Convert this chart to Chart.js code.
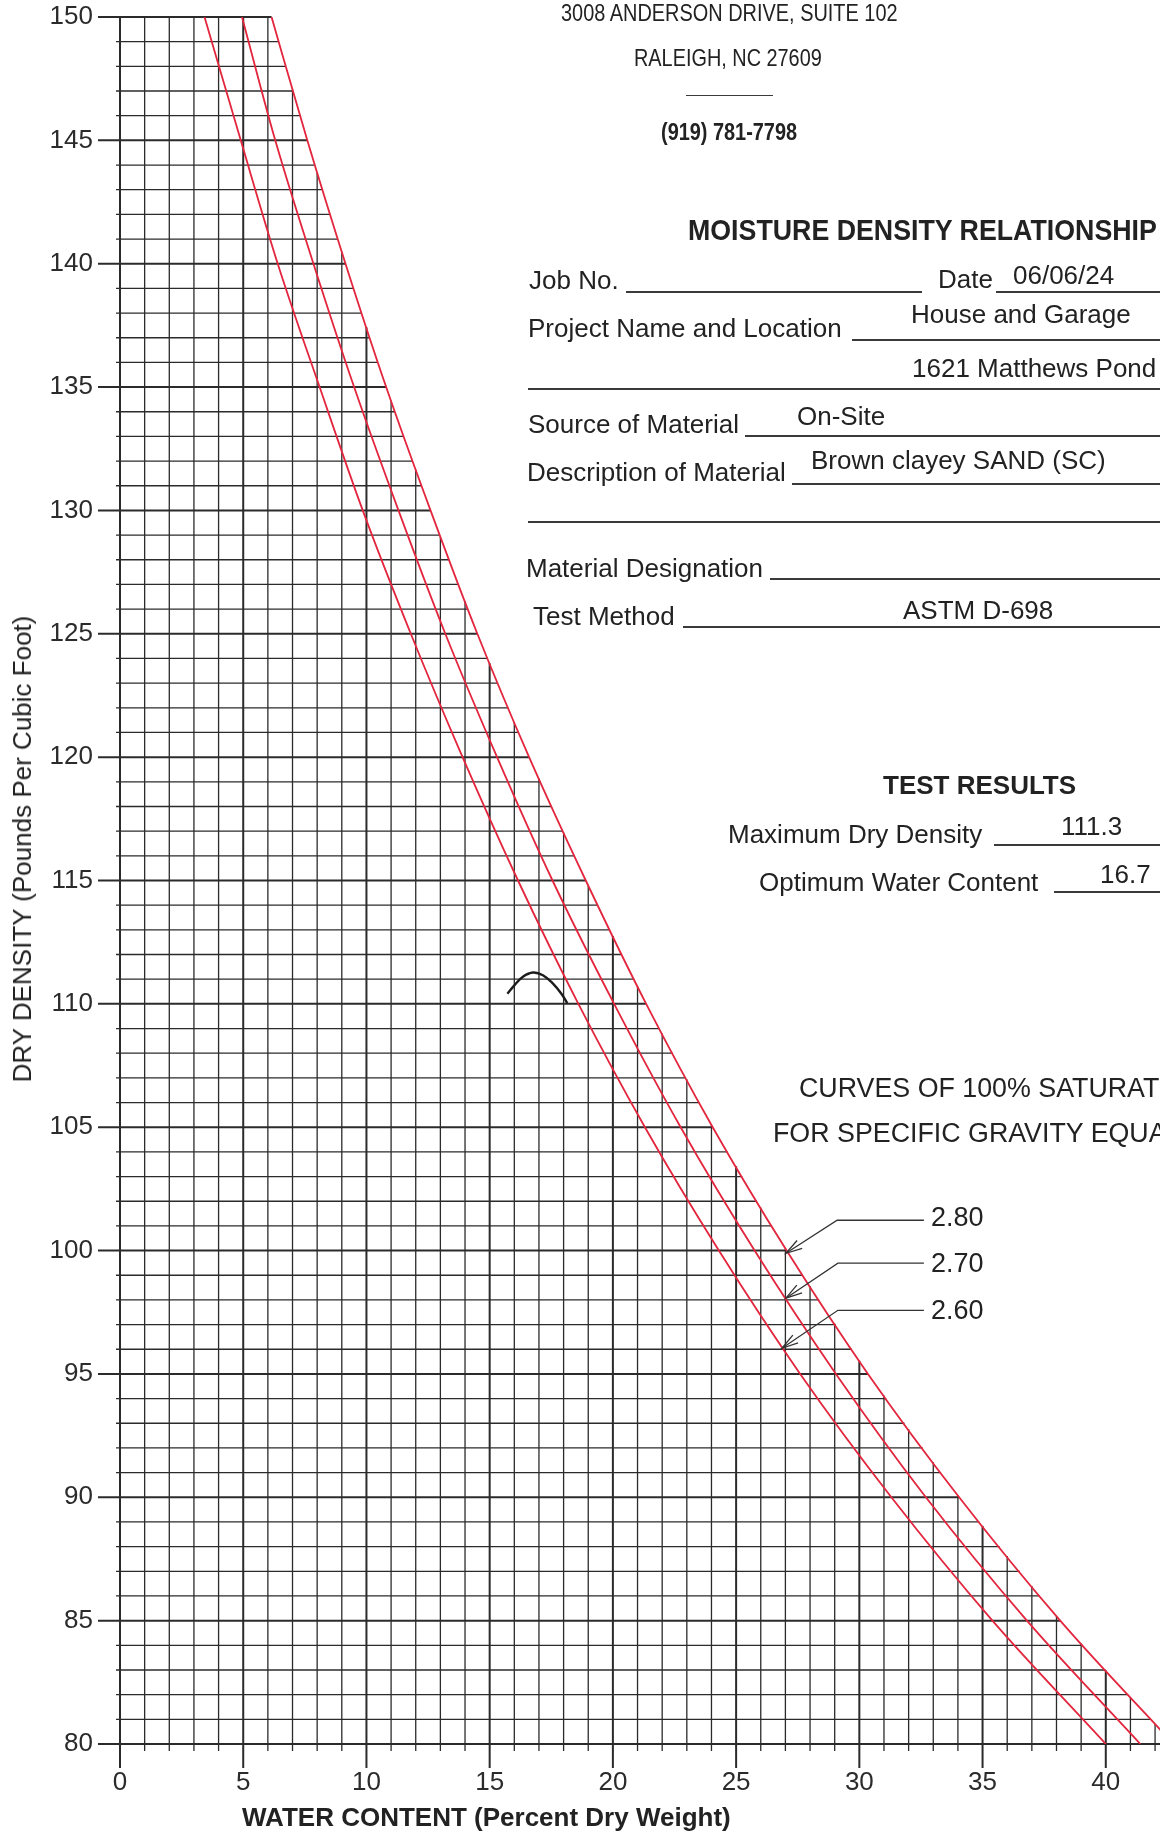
<!DOCTYPE html>
<html>
<head>
<meta charset="utf-8">
<title>Moisture Density Relationship</title>
<script src="https://cdn.jsdelivr.net/npm/chart.js@4.4.1/dist/chart.umd.min.js"></script>
<style>
  html, body { margin: 0; padding: 0; background: #fff; }
  #sheet { position: relative; width: 1160px; height: 1832px; overflow: hidden; background: #fff; }
  #sheet canvas { position: absolute; left: 0; top: 0; }
  .tx { position: absolute; white-space: nowrap; font-family: 'Liberation Sans', Arial, Helvetica, sans-serif;
        font-size: 26px; line-height: 26px; color: #222; transform-origin: 0 50%; }
  .b { font-weight: bold; }
  .rule { position: absolute; height: 0; border-top: 2px solid #3a3a3a; }
</style>
</head>
<body>
<div id="sheet">
  <canvas id="mdChart" width="1160" height="1832"></canvas>
</div>
<script>
// dry density levels (pcf) where the saturation curves were read
const densityLevels = [150, 145, 140, 135, 130, 125, 120, 115, 110, 105, 100, 95, 90, 85, 80];
// water content (%) of the 100% saturation curves at those densities
const satWater280 = [6.15, 7.6, 9.15, 10.8, 12.6, 14.5, 16.6, 18.9, 21.35, 24.05, 27.05, 30.35, 34.05, 38.15, 42.75];
const satWater270 = [4.95, 6.3, 7.85, 9.5, 11.3, 13.2, 15.3, 17.55, 20.05, 22.75, 25.75, 29.05, 32.7, 36.8, 41.4];
const satWater260 = [3.43, 4.9, 6.4, 8.1, 9.85, 11.8, 13.9, 16.15, 18.6, 21.3, 24.3, 27.6, 31.3, 35.4, 40.0];

// hand drawn compaction curve
const compactWater = [15.72, 16.01, 16.35, 16.76, 17.16, 17.57, 17.91, 18.15];
const compactDensity = [110.41, 110.76, 111.10, 111.27, 111.16, 110.82, 110.41, 110.03];

// axis ticks
const xTicks = [0, 5, 10, 15, 20, 25, 30, 35, 40];
const yTicks = [80, 85, 90, 95, 100, 105, 110, 115, 120, 125, 130, 135, 140, 145, 150];

// specific gravity call-outs (data coords)
const gravityLabels = ['2.80', '2.70', '2.60'];
const leaderY = [101.23, 99.49, 97.58];
const leaderX1 = [29.1, 29.13, 29.13];
const leaderX2 = [32.62, 32.62, 32.62];
const arrowX = [27.02, 27.02, 26.86];
const arrowY = [99.89, 98.07, 96.04];

const FONT = "'Liberation Sans', Arial, Helvetica, sans-serif";
const RED = '#e3253d';
const INK = '#2b2b2b';

function waterOnCurve(g) {
    for (let i = 0; i < densityLevels.length - 1; i++) {
        const a = densityLevels[i], b = densityLevels[i + 1];
        if (g <= a && g >= b) {
            const t = (a - g) / (a - b);
            return satWater280[i] + t * (satWater280[i + 1] - satWater280[i]);
        }
    }
    return g > 150 ? satWater280[0] : satWater280[satWater280.length - 1];
}

function densityOnCurve(w) {
    if (w <= satWater280[0]) return 150;
    for (let i = 0; i < satWater280.length - 1; i++) {
        const a = satWater280[i], b = satWater280[i + 1];
        if (w >= a && w <= b) {
            const t = (w - a) / (b - a);
            return densityLevels[i] + t * (densityLevels[i + 1] - densityLevels[i]);
        }
    }
    return 80;
}

// graph paper grid, clipped by the 2.80 curve, plus the leaders
const graphPaper = {
    id: 'graphPaper',
    beforeDatasetsDraw(chart) {
        const {ctx, chartArea} = chart;
        const x = chart.scales.x, y = chart.scales.y;
        ctx.save();
        ctx.strokeStyle = INK;
        for (let g = 80; g <= 150; g++) {
            const major = g % 5 === 0;
            const py = y.getPixelForValue(g);
            const xr = Math.min(x.getPixelForValue(waterOnCurve(g)), chartArea.right);
            ctx.lineWidth = major ? 2 : 1.3;
            ctx.beginPath();
            ctx.moveTo(x.getPixelForValue(0) - (major ? 22 : 4), py);
            ctx.lineTo(xr, py);
            ctx.stroke();
        }
        for (let w = 0; w <= 42; w++) {
            const major = w % 5 === 0;
            const px = x.getPixelForValue(w);
            ctx.lineWidth = major ? 2 : 1.3;
            ctx.beginPath();
            ctx.moveTo(px, y.getPixelForValue(80) + (major ? 24 : 7));
            ctx.lineTo(px, y.getPixelForValue(densityOnCurve(w)));
            ctx.stroke();
        }
        ctx.restore();
    },
    afterDatasetsDraw(chart) {
        const {ctx} = chart;
        const x = chart.scales.x, y = chart.scales.y;
        ctx.save();
        ctx.strokeStyle = '#333';
        ctx.lineWidth = 1.3;
        for (let i = 0; i < gravityLabels.length; i++) {
            const ax = x.getPixelForValue(leaderX1[i]), ay = y.getPixelForValue(leaderY[i]);
            const tx = x.getPixelForValue(arrowX[i]), ty = y.getPixelForValue(arrowY[i]);
            ctx.beginPath();
            ctx.moveTo(x.getPixelForValue(leaderX2[i]), ay);
            ctx.lineTo(ax, ay);
            ctx.lineTo(tx, ty);
            ctx.stroke();
            // open arrow head
            const ang = Math.atan2(ay - ty, ax - tx);
            ctx.beginPath();
            ctx.moveTo(tx + 17 * Math.cos(ang + 0.28), ty + 17 * Math.sin(ang + 0.28));
            ctx.lineTo(tx, ty);
            ctx.lineTo(tx + 17 * Math.cos(ang - 0.28), ty + 17 * Math.sin(ang - 0.28));
            ctx.stroke();
        }
        ctx.restore();
    }
};

function curve(label, water, color) {
    return {
        label: label,
        data: water.map((w, i) => ({x: w, y: densityLevels[i]})),
        borderColor: color,
        borderWidth: 1.8,
        pointRadius: 0,
        cubicInterpolationMode: 'monotone',
        fill: false
    };
}

new Chart(document.getElementById('mdChart').getContext('2d'), {
    type: 'line',
    data: {
        datasets: [
            curve('Gs 2.80', satWater280, RED),
            curve('Gs 2.70', satWater270, RED),
            curve('Gs 2.60', satWater260, RED),
            {
                label: 'Compaction',
                data: compactWater.map((w, i) => ({x: w, y: compactDensity[i]})),
                borderColor: '#1c1c1c',
                borderWidth: 2.4,
                pointRadius: 0,
                tension: 0.4,
                fill: false
            }
        ]
    },
    options: {
        responsive: false,
        animation: false,
        layout: {padding: {top: 17, left: 0, right: 0, bottom: 0}},
        plugins: {legend: {display: false}, tooltip: {enabled: false}},
        scales: {
            x: {
                type: 'linear', min: 0, max: 42.2,
                grid: {display: false, drawTicks: false},
                border: {display: false},
                afterBuildTicks: (s) => { s.ticks = xTicks.map(v => ({value: v})); },
                afterFit: (s) => { s.height = 88; s.paddingLeft = 0; s.paddingRight = 0; },
                ticks: {autoSkip: false, maxRotation: 0, padding: 23, color: INK, font: {family: FONT, size: 26}}
            },
            y: {
                type: 'linear', min: 80, max: 150,
                grid: {display: false, drawTicks: false},
                border: {display: false},
                afterBuildTicks: (s) => { s.ticks = yTicks.map(v => ({value: v})); },
                afterFit: (s) => { s.width = 120; s.paddingTop = 0; s.paddingBottom = 0; },
                ticks: {autoSkip: false, padding: 27, color: INK, font: {family: FONT, size: 26}}
            }
        }
    },
    plugins: [graphPaper]
});

// form text around the graph
const sheet = document.getElementById('sheet');

function put(txt, x, cy, opts) {
    opts = opts || {};
    const size = opts.size || 26;
    const el = document.createElement('div');
    el.className = 'tx' + (opts.bold ? ' b' : '');
    el.textContent = txt;
    el.style.fontSize = size + 'px';
    el.style.lineHeight = size + 'px';
    el.style.left = x + 'px';
    el.style.top = (cy - size * 0.49) + 'px';
    sheet.appendChild(el);
    if (opts.width) {
        el.style.transform = 'scaleX(' + (opts.width / el.offsetWidth).toFixed(3) + ')';
    }
    return el;
}

function rule(x1, x2, y, thick) {
    const el = document.createElement('div');
    el.className = 'rule';
    el.style.left = x1 + 'px';
    el.style.width = (x2 - x1) + 'px';
    el.style.top = (y - 1) + 'px';
    if (thick) el.style.borderTopWidth = thick + 'px';
    sheet.appendChild(el);
}

put('3008 ANDERSON DRIVE, SUITE 102', 561, 13, {size: 24, width: 337});
put('RALEIGH, NC 27609', 634, 58, {size: 24, width: 188});
rule(686, 773, 96, 1.5);
put('(919) 781-7798', 661, 132, {size: 24, bold: true, width: 136});
put('MOISTURE DENSITY RELATIONSHIP', 688, 230, {size: 30, bold: true, width: 469});

put('Job No.', 529, 280);
rule(626, 922, 292);
put('Date', 938, 279);
rule(996, 1160, 292);
put('06/06/24', 1013, 275);

put('Project Name and Location', 528, 328);
rule(852, 1160, 340);
put('House and Garage', 911, 314);
put('1621 Matthews Pond', 912, 368);
rule(528, 1160, 389);

put('Source of Material', 528, 424);
rule(745, 1160, 436);
put('On-Site', 797, 416);

put('Description of Material', 527, 472);
rule(792, 1160, 484);
put('Brown clayey SAND (SC)', 811, 460);
rule(528, 1160, 522);

put('Material Designation', 526, 568);
rule(770, 1160, 579);

put('Test Method', 533, 616);
rule(683, 1160, 627);
put('ASTM D-698', 903, 610);

put('TEST RESULTS', 883, 785, {bold: true});
put('Maximum Dry Density', 728, 834);
rule(994, 1160, 845);
put('111.3', 1061, 826);
put('Optimum Water Content', 759, 882);
rule(1054, 1160, 892);
put('16.7', 1100, 874);

put('CURVES OF 100% SATURATION', 799, 1088, {size: 26.8});
put('FOR SPECIFIC GRAVITY EQUAL TO', 773, 1133, {size: 26.8});

put(gravityLabels[0], 931, 1217, {size: 27});
put(gravityLabels[1], 931, 1263, {size: 27});
put(gravityLabels[2], 931, 1310, {size: 27});

// axis titles
put('WATER CONTENT (Percent Dry Weight)', 242, 1817, {bold: true});
const yTitle = put('DRY DENSITY (Pounds Per Cubic Foot)', 22, 849);
yTitle.style.top = '849px';
yTitle.style.transformOrigin = 'center';
yTitle.style.transform = 'translate(-50%, -50%) rotate(-90deg)';
</script>
</body>
</html>
